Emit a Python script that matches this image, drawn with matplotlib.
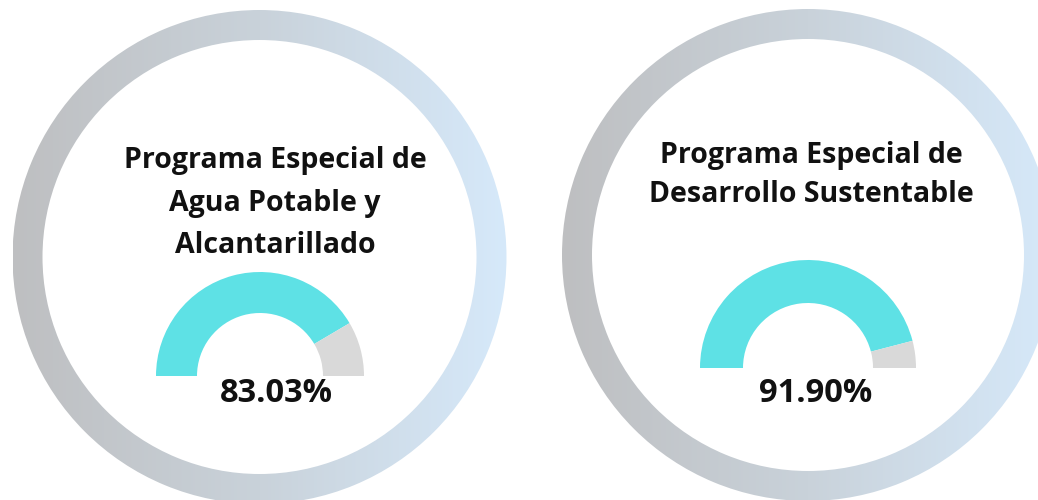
import matplotlib
matplotlib.use("Agg")
import matplotlib.pyplot as plt
import numpy as np
from matplotlib.patches import Wedge
from matplotlib.colors import LinearSegmentedColormap

titles = ["Programa Especial de\nAgua Potable y\nAlcantarillado",
          "Programa Especial de\nDesarrollo Sustentable"]
values = [83.03, 91.90]
labels = ["83.03%", "91.90%"]

W, H = 1038, 500
fig = plt.figure(figsize=(W/100, H/100), dpi=100)
ax = fig.add_axes([0, 0, 1, 1])
ax.set_xlim(0, W)
ax.set_ylim(0, H)
ax.set_aspect("auto")
ax.axis("off")

cmap = LinearSegmentedColormap.from_list("ring", ["#bebfc1", "#c9d2da", "#d6e9fa"])
FONT = "Open Sans"

# layout: ring centers/radii, gauge centers/radii, title & label positions
rings = [dict(cx=259.5, cy=H-257, R=247, r=217), dict(cx=808, cy=H-255, R=246, r=216)]
gauges = [dict(cx=260, cy=H-376, R=104, r=63), dict(cx=808, cy=H-368, R=108, r=65)]
title_pos = [(275, H-203), (811, H-175)]
title_ls = [1.6, 1.48]
label_pos = [(276, H-393), (816, H-394)]

for i in range(2):
    rg = rings[i]
    ring = Wedge((rg["cx"], rg["cy"]), rg["R"], 0, 360, width=rg["R"]-rg["r"],
                 facecolor="none", edgecolor="none")
    ax.add_patch(ring)
    grad = np.linspace(0, 1, 256).reshape(1, -1)
    im = ax.imshow(grad, cmap=cmap, aspect="auto",
                   extent=[rg["cx"]-rg["R"], rg["cx"]+rg["R"], rg["cy"]-rg["R"], rg["cy"]+rg["R"]],
                   zorder=1)
    im.set_clip_path(ring)

    g = gauges[i]
    v = values[i]
    split = 180 * (1 - v / 100)
    ax.add_patch(Wedge((g["cx"], g["cy"]), g["R"], split, 180, width=g["R"]-g["r"],
                       facecolor="#5ee1e5", edgecolor="none", zorder=2))
    ax.add_patch(Wedge((g["cx"], g["cy"]), g["R"], 0, split, width=g["R"]-g["r"],
                       facecolor="#d9d9d9", edgecolor="none", zorder=2))

    ax.text(title_pos[i][0], title_pos[i][1], titles[i], ha="center", va="center",
            fontsize=20.5, fontweight="bold", family=FONT, color="#111111",
            linespacing=title_ls[i], zorder=3)
    ax.text(label_pos[i][0], label_pos[i][1], labels[i], ha="center", va="center",
            fontsize=23.5, fontweight="bold", family=FONT, color="#111111", zorder=3)

ax.set_xlim(0, W)
ax.set_ylim(0, H)
fig.savefig("out.png", dpi=100, facecolor="white")
